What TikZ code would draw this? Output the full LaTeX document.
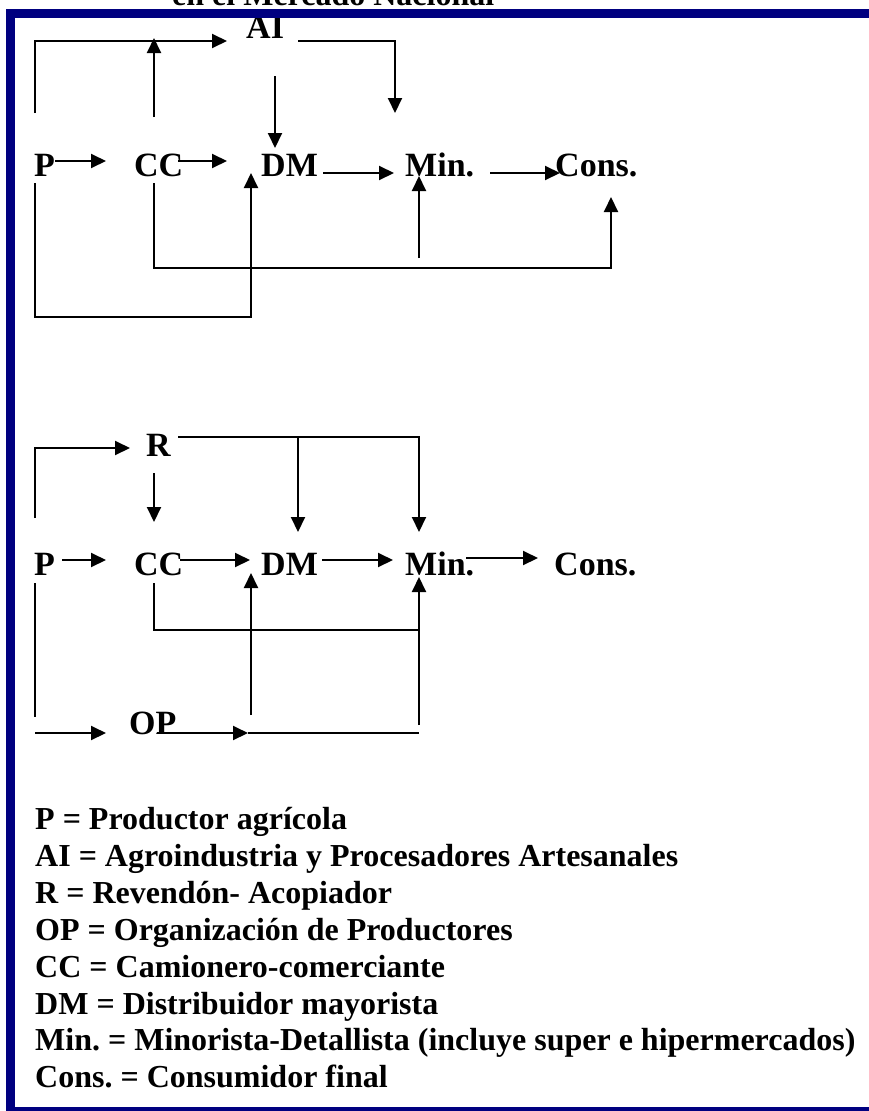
\documentclass[tikz,border=0pt]{standalone}
\usepackage{fontspec}
\setmainfont{Liberation Serif}
\usetikzlibrary{arrows.meta}
\definecolor{framenavy}{RGB}{0,0,128}
\frenchspacing
\begin{document}
\begin{tikzpicture}[x=1pt,y=-1pt,
  lbl/.style={inner sep=0pt, anchor=base west, font=\fontsize{34}{40}\selectfont\bfseries},
  leg/.style={inner sep=0pt, anchor=base west, font=\fontsize{32}{37}\selectfont\bfseries},
  ln/.style={line width=2pt},
  arr/.style={ln, -{Triangle[length=15pt,width=14pt]}},
  framebar/.style={fill=framenavy, draw=none}
]
\useasboundingbox (0,0) rectangle (869,1111);

% clipped heading
\node[leg] (head) at (172,5) {en el Mercado Nacional};

% ---------- diagram 1 ----------
\node[lbl] (P1) at (34,176) {P};
\node[lbl] (CC1) at (134,176) {CC};
\node[lbl] (DM1) at (261,176) {DM};
\node[lbl] (Min1) at (405,176) {Min.};
\node[lbl] (Cons1) at (555,176) {Cons.};
\node[lbl] (AI) at (246,38) {AI};

\coordinate (p1up) at (35,113);
\coordinate (ai1in) at (227,41);
\coordinate (cc1up) at (154,117);
\coordinate (ai1bar) at (154,38);
\coordinate (ai1out) at (298,41);
\coordinate (min1top) at (395,113);
\coordinate (ai1dn) at (275,76);
\coordinate (dm1top) at (275,148);
\coordinate (p1r) at (55,161);
\coordinate (cc1l) at (106,161);
\coordinate (cc1r) at (178,161);
\coordinate (dm1l) at (227,161);
\coordinate (dm1r) at (323,173);
\coordinate (min1l) at (394,173);
\coordinate (min1r) at (490,173);
\coordinate (cons1l) at (560,173);
\coordinate (p1dn) at (35,183);
\coordinate (p1low) at (35,317);
\coordinate (dm1bot) at (251,173);
\coordinate (cc1dn) at (154,183);
\coordinate (cc1low) at (154,268);
\coordinate (cons1bot) at (611,197);
\coordinate (min1src) at (419,258);
\coordinate (min1bot) at (419,176);

\draw[arr] (p1up) |- (ai1in);
\draw[arr] (cc1up) -- (ai1bar);
\draw[arr] (ai1out) -| (min1top);
\draw[arr] (ai1dn) -- (dm1top);
\draw[arr] (p1r) -- (cc1l);
\draw[arr] (cc1r) -- (dm1l);
\draw[arr] (dm1r) -- (min1l);
\draw[arr] (min1r) -- (cons1l);
\draw[arr] (p1dn) -- (p1low) -| (dm1bot);
\draw[arr] (cc1dn) -- (cc1low) -| (cons1bot);
\draw[arr] (min1src) -- (min1bot);

% ---------- diagram 2 ----------
\node[lbl] (R2) at (146,456) {R};
\node[lbl] (P2) at (34,575) {P};
\node[lbl] (CC2) at (134,575) {CC};
\node[lbl] (DM2) at (261,575) {DM};
\node[lbl] (Min2) at (405,575) {Min.};
\node[lbl] (Cons2) at (554,575) {Cons.};
\node[lbl] (OP) at (129,734) {OP};

\coordinate (p2up) at (35,518);
\coordinate (r2in) at (130,448);
\coordinate (r2dn) at (154,473);
\coordinate (cc2top) at (154,522);
\coordinate (r2out) at (178,437);
\coordinate (min2top) at (419,532);
\coordinate (r2br) at (298,437);
\coordinate (dm2top) at (298,532);
\coordinate (p2r) at (62,560);
\coordinate (cc2l) at (106,560);
\coordinate (cc2r) at (180,560);
\coordinate (dm2l) at (250,560);
\coordinate (dm2r) at (322,560);
\coordinate (min2l) at (393,560);
\coordinate (min2r) at (466,558);
\coordinate (cons2l) at (538,558);
\coordinate (cc2dn) at (154,583);
\coordinate (cc2low) at (419,630);
\coordinate (min2src) at (419,725);
\coordinate (min2bot) at (419,577);
\coordinate (p2dn) at (35,583);
\coordinate (p2low) at (35,717);
\coordinate (op2src) at (35,733);
\coordinate (op2in) at (106,733);
\coordinate (op2r) at (157,733);
\coordinate (op2mid) at (248,733);
\coordinate (op2end) at (419,733);
\coordinate (dm2src) at (251,715);
\coordinate (dm2bot) at (251,573);

\draw[arr] (p2up) |- (r2in);
\draw[arr] (r2dn) -- (cc2top);
\draw[arr] (r2out) -| (min2top);
\draw[arr] (r2br) -- (dm2top);
\draw[arr] (p2r) -- (cc2l);
\draw[arr] (cc2r) -- (dm2l);
\draw[arr] (dm2r) -- (min2l);
\draw[arr] (min2r) -- (cons2l);
\draw[ln] (cc2dn) |- (cc2low);
\draw[arr] (min2src) -- (min2bot);
\draw[ln] (p2dn) -- (p2low);
\draw[arr] (op2src) -- (op2in);
\draw[arr] (op2r) -- (op2mid);
\draw[ln] (op2mid) -- (op2end);
\draw[arr] (dm2src) -- (dm2bot);

% ---------- legend ----------
\node[leg] (L1) at (35,829) {P = Productor agrícola};
\node[leg] (L2) at (35,866) {AI = Agroindustria y Procesadores Artesanales};
\node[leg] (L3) at (35,903) {R = Revendón- Acopiador};
\node[leg] (L4) at (35,940) {OP = Organización de Productores};
\node[leg] (L5) at (35,977) {CC = Camionero-comerciante};
\node[leg] (L6) at (35,1014) {DM = Distribuidor mayorista};
\node[leg] (L7) at (35,1050) {Min. = Minorista-Detallista (incluye super e hipermercados)};
\node[leg] (L8) at (35,1087) {Cons. = Consumidor final};

% ---------- frame ----------
\fill[framebar] (6,9) rectangle (869,18);
\fill[framebar] (6,9) rectangle (15,1111);
\fill[framebar] (6,1107) rectangle (869,1111);
\end{tikzpicture}
\end{document}
